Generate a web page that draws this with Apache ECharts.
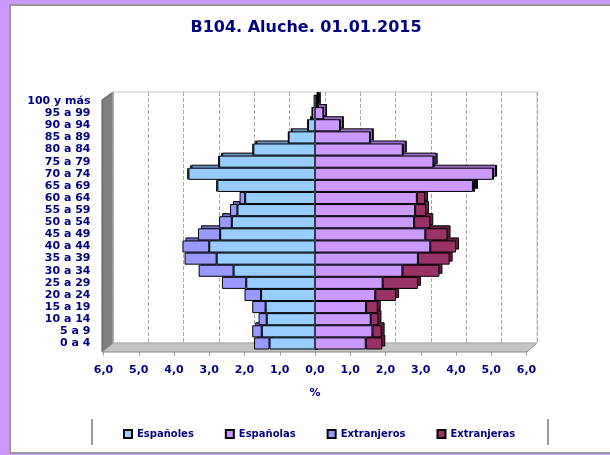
<!DOCTYPE html>
<html>
<head>
<meta charset="utf-8">
<script src="https://cdn.jsdelivr.net/npm/echarts@6/dist/echarts.min.js"></script>
<style>
html, body { margin: 0; padding: 0; background: #CC99FF; overflow: hidden; }
#piramide { width: 610px; height: 455px; }
</style>
</head>
<body>
<div id="piramide"></div>
<script>
// grupos de edad, de abajo arriba
let edades = ['0 a 4','5 a 9','10 a 14','15 a 19','20 a 24','25 a 29','30 a 34','35 a 39','40 a 44','45 a 49',
    '50 a 54','55 a 59','60 a 64','65 a 69','70 a 74','75 a 79','80 a 84','85 a 89','90 a 94','95 a 99','100 y más'];
// % sobre el total de población
let espanoles   = [1.29,1.51,1.37,1.40,1.53,1.95,2.31,2.79,3.00,2.69,2.36,2.20,1.98,2.77,3.59,2.72,1.75,0.75,0.20,0.08,0.02];
let extranjeros = [0.44,0.27,0.23,0.38,0.47,0.69,0.99,0.91,0.76,0.63,0.36,0.21,0.16,0.03,0.03,0.02,0.02,0.01,0.01,0.00,0.00];
let espanolas   = [1.44,1.63,1.58,1.45,1.71,1.92,2.48,2.92,3.27,3.13,2.81,2.84,2.89,4.48,5.05,3.36,2.49,1.56,0.71,0.24,0.05];
let extranjeras = [0.47,0.26,0.22,0.33,0.59,1.00,1.05,0.90,0.73,0.63,0.46,0.31,0.23,0.06,0.03,0.03,0.02,0.01,0.01,0.00,0.02];
let ticksX = [-6,-5,-4,-3,-2,-1,0,1,2,3,4,5,6];

let azul = '#000080';
let fuente = 'DejaVu Sans';

function negativo(arr){
    return arr.map(function(v){ return -v; });
}

// hombres en negativo y mujeres en positivo en la misma pila (samesign)
function barra(nombre, datos, color, grid, z){
    return {
        name: nombre,
        type: 'bar',
        xAxisIndex: grid,
        yAxisIndex: grid,
        stack: 'pila' + grid,
        data: datos,
        barCategoryGap: '0%',
        z: z,
        itemStyle: { color: color, borderColor: '#000', borderWidth: 1 },
        emphasis: { disabled: true }
    };
}

myChart = echarts.init(document.getElementById('piramide'));

option = {
    backgroundColor: '#CC99FF',
    animation: false,
    title: {
        text: 'B104. Aluche. 01.01.2015',
        left: 301,
        textAlign: 'center',
        top: 15,
        textStyle: { color: azul, fontFamily: fuente, fontWeight: 'bold', fontSize: 16 }
    },
    graphic: [
        { type: 'rect', z: -10, shape: { x: 10, y: 5, width: 600, height: 448 },
          style: { fill: '#fff' } },
        { type: 'polyline', z: -9, shape: { points: [[610,5],[10,5],[10,453],[610,453]] },
          style: { fill: null, stroke: '#9a9a9a', lineWidth: 2 } },
        // pared izquierda y suelo del 3D
        { type: 'polygon', z: -5, shape: { points: [[102,352],[102,100],[113,92],[113,343]] },
          style: { fill: '#7f7f7f', stroke: '#555', lineWidth: 1 } },
        { type: 'polygon', z: -5, shape: { points: [[102,352],[113,343],[537,343],[527,352]] },
          style: { fill: '#c4c4c4', stroke: '#8a8a8a', lineWidth: 1 } },
        // marco de la leyenda
        { type: 'line', shape: { x1: 92, y1: 419, x2: 92, y2: 445 }, style: { stroke: '#999', lineWidth: 2 } },
        { type: 'line', shape: { x1: 548, y1: 419, x2: 548, y2: 445 }, style: { stroke: '#999', lineWidth: 2 } }
    ],
    legend: {
        data: ['Españoles', 'Españolas', 'Extranjeros', 'Extranjeras'],
        left: 118,
        top: 424,
        itemWidth: 8,
        itemHeight: 8,
        itemGap: 31,
        icon: 'rect',
        selectedMode: false,
        textStyle: { color: azul, fontFamily: fuente, fontWeight: 'bold', fontSize: 10 }
    },
    grid: [
        { left: 113, right: 73, top: 92, bottom: 112, show: true, borderColor: '#c8c8c8', borderWidth: 1 },
        { left: 106.5, right: 80.5, top: 92, bottom: 108.5 },
        { left: 103.5, right: 83.5, top: 95, bottom: 105.5 }
    ],
    xAxis: [
        { gridIndex: 0, type: 'value', min: -6, max: 6, interval: 1,
          axisLine: { show: false }, axisTick: { show: false }, axisLabel: { show: false },
          splitLine: { show: true, lineStyle: { color: '#a8a8a8', type: 'dashed', width: 1 } } },
        { gridIndex: 1, type: 'value', min: -6, max: 6, interval: 1, show: false },
        { gridIndex: 2, type: 'value', min: -6, max: 6, interval: 1, offset: 2,
          name: '%', nameLocation: 'middle', nameGap: 36,
          nameTextStyle: { color: azul, fontFamily: fuente, fontWeight: 'bold', fontSize: 11 },
          axisLine: { show: false },
          axisTick: { show: true, length: 4, lineStyle: { color: '#999' } },
          splitLine: { show: false },
          axisLabel: {
              margin: 13,
              color: azul, fontFamily: fuente, fontWeight: 'bold', fontSize: 11,
              customValues: ticksX,
              formatter: function(v){ return Math.abs(v).toFixed(1).replace('.', ','); }
          } }
    ],
    yAxis: [
        { gridIndex: 0, type: 'category', data: edades, show: false },
        { gridIndex: 1, type: 'category', data: edades, show: false },
        { gridIndex: 2, type: 'category', data: edades,
          axisLine: { show: false, onZero: false }, axisTick: { show: false },
          axisLabel: { interval: 0, margin: 13, padding: [6, 0, 0, 0], color: azul, fontFamily: fuente, fontWeight: 'bold', fontSize: 11 } },
        { gridIndex: 2, type: 'category', data: edades, z: 10,
          axisLine: { show: true, onZero: true, lineStyle: { color: '#3f5068', width: 1.5 } },
          axisTick: { show: true, length: 3, lineStyle: { color: '#000' } },
          axisLabel: { show: false } }
    ],
    series: [
        // caras traseras (profundidad)
        barra('Españoles 3D', negativo(espanoles), '#6b93bf', 1, 1),
        barra('Extranjeros 3D', negativo(extranjeros), '#6b6bc0', 1, 1),
        barra('Españolas 3D', espanolas, '#9a6cc4', 1, 1),
        barra('Extranjeras 3D', extranjeras, '#5e1f40', 1, 1),
        // caras delanteras
        barra('Españoles', negativo(espanoles), '#99CCFF', 2, 3),
        barra('Extranjeros', negativo(extranjeros), '#9999FF', 2, 3),
        barra('Españolas', espanolas, '#CC99FF', 2, 3),
        barra('Extranjeras', extranjeras, '#993366', 2, 3)
    ]
};

myChart.setOption(option);
</script>
</body>
</html>
